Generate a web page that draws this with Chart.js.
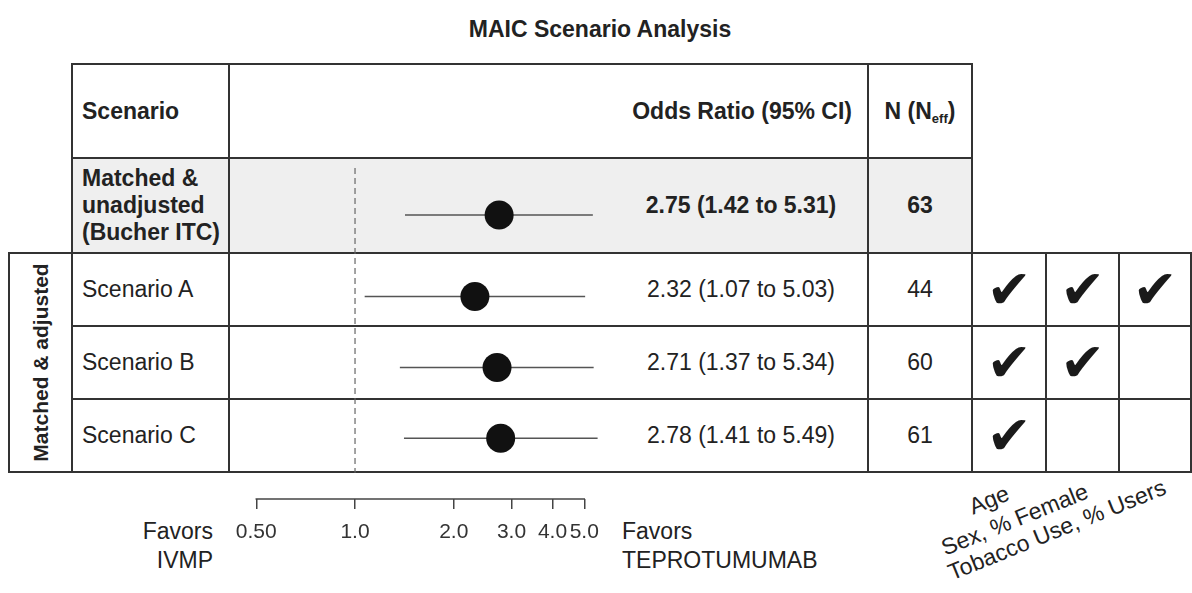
<!DOCTYPE html>
<html>
<head>
<meta charset="utf-8">
<title>MAIC Scenario Analysis</title>
<script src="https://cdn.jsdelivr.net/npm/chart.js@4.4.1/dist/chart.umd.min.js"></script>
<style>
  html, body { margin: 0; padding: 0; background: #fff; }
  #page {
    position: relative; width: 1192px; height: 593px; overflow: hidden;
    font-family: "Liberation Sans", Arial, sans-serif; color: #222;
  }
  .cell { position: absolute; box-sizing: border-box; border: 2px solid #333; }
  .box {
    position: absolute; box-sizing: border-box; display: flex; align-items: center;
    font-size: 23px; line-height: 27px; white-space: nowrap;
  }
  .bold { font-weight: bold; }
  .check { font-family: "DejaVu Sans", sans-serif; font-size: 54px; line-height: 1; justify-content: center; color: #1a1a1a; }
  .rot {
    position: absolute; white-space: nowrap; font-size: 23px; line-height: 26px;
    transform-origin: 100% 50%; transform: rotate(-22deg);
  }
  .sub { font-size: 13px; position: relative; top: 7px; }
  #forest { position: absolute; left: 0; top: 0; }
</style>
</head>
<body>
<div id="page">
  <div id="table"></div>
  <canvas id="forest" width="1192" height="593"></canvas>
</div>
<script>
// data
const scenarios = ["Matched &<br>unadjusted<br>(Bucher ITC)", "Scenario A", "Scenario B", "Scenario C"];
const oddsRatios = [2.75, 2.32, 2.71, 2.78];
const ciLower = [1.42, 1.07, 1.37, 1.41];
const ciUpper = [5.31, 5.03, 5.34, 5.49];
const sampleN = [63, 44, 60, 61];
const covariates = ["Age", "Sex, % Female", "Tobacco Use, % Users"];
const adjustedFor = [null, [true, true, true], [true, true, false], [true, false, false]];
const tickValues = [0.5, 1, 2, 3, 4, 5];
const tickLabels = ["0.50", "1.0", "2.0", "3.0", "4.0", "5.0"];

// layout (pixels)
const colX = [9, 72, 229, 868, 972];
const checkX = [972, 1046, 1119, 1191];
const rowY = [64, 158, 253, 326, 399, 472];
const AXIS_Y = 499;
const CI_TEXT_X = 741;

const table = document.getElementById("table");

function addCell(x0, y0, x1, y1, bg) {
  const d = document.createElement("div");
  d.className = "cell";
  d.style.left = (x0 - 1) + "px";
  d.style.top = (y0 - 1) + "px";
  d.style.width = (x1 - x0 + 2) + "px";
  d.style.height = (y1 - y0 + 2) + "px";
  if (bg) d.style.background = bg;
  table.appendChild(d);
}

function addText(html, x0, y0, x1, y1, cls, justify, pad) {
  const d = document.createElement("div");
  d.className = "box " + (cls || "");
  d.style.left = x0 + "px";
  d.style.top = y0 + "px";
  d.style.width = (x1 - x0) + "px";
  d.style.height = (y1 - y0) + "px";
  d.style.justifyContent = justify || "flex-start";
  if (pad) d.style.padding = pad;
  d.innerHTML = html;
  table.appendChild(d);
}

// title
addText("MAIC Scenario Analysis", 300, 14, 900, 44, "bold", "center");

// header row
addCell(colX[1], rowY[0], colX[2], rowY[1]);
addCell(colX[2], rowY[0], colX[3], rowY[1]);
addCell(colX[3], rowY[0], colX[4], rowY[1]);
addText("Scenario", colX[1], rowY[0], colX[2], rowY[1], "bold", "flex-start", "0 0 0 10px");
addText("Odds Ratio (95% CI)", colX[2], rowY[0], colX[3], rowY[1], "bold", "flex-end", "0 16px 0 0");
addText("N (N<span class=\"sub\">eff</span>)", colX[3], rowY[0], colX[4], rowY[1], "bold", "center");

// data rows
scenarios.forEach((name, i) => {
  const y0 = rowY[i + 1];
  const y1 = rowY[i + 2];
  const bg = i === 0 ? "#efefef" : null;
  const cls = i === 0 ? "bold" : "";
  addCell(colX[1], y0, colX[2], y1, bg);
  addCell(colX[2], y0, colX[3], y1, bg);
  addCell(colX[3], y0, colX[4], y1, bg);
  addText(name, colX[1], y0, colX[2], y1, cls, "flex-start", "0 0 0 10px");
  const ci = oddsRatios[i].toFixed(2) + " (" + ciLower[i].toFixed(2) + " to " + ciUpper[i].toFixed(2) + ")";
  addText(ci, CI_TEXT_X - 120, y0, CI_TEXT_X + 120, y1, cls, "center");
  addText(String(sampleN[i]), colX[3], y0, colX[4], y1, cls, "center");
  if (adjustedFor[i]) {
    adjustedFor[i].forEach((on, j) => {
      addCell(checkX[j], y0, checkX[j + 1], y1);
      if (on) addText("\u2714", checkX[j], y0, checkX[j + 1], y1, "check", "center");
    });
  }
});

// group label
addCell(colX[0], rowY[2], colX[1], rowY[5]);
const grp = document.createElement("div");
grp.className = "box bold";
grp.style.fontSize = "21px";
grp.style.justifyContent = "center";
grp.style.width = (rowY[5] - rowY[2]) + "px";
grp.style.height = (colX[1] - colX[0]) + "px";
grp.style.left = ((colX[0] + colX[1]) / 2 - (rowY[5] - rowY[2]) / 2) + "px";
grp.style.top = ((rowY[2] + rowY[5]) / 2 - (colX[1] - colX[0]) / 2) + "px";
grp.style.transform = "rotate(-90deg)";
grp.textContent = "Matched & adjusted";
table.appendChild(grp);

// favors labels
const favL = document.createElement("div");
favL.className = "box";
favL.style.cssText = "left:60px;top:516px;width:153px;height:60px;justify-content:flex-end;text-align:right;line-height:29px;";
favL.innerHTML = "Favors<br>IVMP";
table.appendChild(favL);
const favR = document.createElement("div");
favR.className = "box";
favR.style.cssText = "left:622px;top:516px;width:220px;height:60px;line-height:29px;";
favR.innerHTML = "Favors<br>TEPROTUMUMAB";
table.appendChild(favR);

// covariate labels
const covAnchor = [[1008, 492], [1087, 490], [1165, 486]];
covariates.forEach((c, j) => {
  const d = document.createElement("div");
  d.className = "rot";
  d.style.right = (1192 - covAnchor[j][0]) + "px";
  d.style.top = (covAnchor[j][1] - 13) + "px";
  d.textContent = c;
  table.appendChild(d);
});

// forest plot
const rowCenters = scenarios.map((_, i) => (rowY[i + 1] + rowY[i + 2]) / 2 + 1);

const ciLinesPlugin = {
  id: "ciLines",
  beforeDatasetsDraw(chart) {
    const { ctx, scales } = chart;
    ctx.save();
    ctx.strokeStyle = "#555";
    ctx.lineWidth = 1.5;
    oddsRatios.forEach((_, i) => {
      const y = scales.y.getPixelForValue(rowCenters[i]);
      ctx.beginPath();
      ctx.moveTo(scales.x.getPixelForValue(ciLower[i]), y);
      ctx.lineTo(scales.x.getPixelForValue(ciUpper[i]), y);
      ctx.stroke();
    });
    ctx.restore();
  }
};

const axisLinePlugin = {
  id: "axisLine",
  afterDraw(chart) {
    const { ctx, scales, chartArea } = chart;
    ctx.save();
    ctx.strokeStyle = "#444";
    ctx.lineWidth = 1.5;
    ctx.beginPath();
    ctx.moveTo(scales.x.getPixelForValue(tickValues[0]) - 0.75, chartArea.bottom);
    ctx.lineTo(scales.x.getPixelForValue(tickValues[tickValues.length - 1]) + 0.75, chartArea.bottom);
    ctx.stroke();
    ctx.restore();
  }
};

const ctx = document.getElementById("forest").getContext("2d");

new Chart(ctx, {
  type: "scatter",
  data: {
    datasets: [
      {
        label: "Odds ratio",
        data: oddsRatios.map((v, i) => ({ x: v, y: rowCenters[i] })),
        pointRadius: 14.5,
        backgroundColor: "#111",
        borderColor: "#111",
        borderWidth: 0
      },
      {
        label: "No effect",
        type: "line",
        data: [{ x: 1, y: rowY[1] }, { x: 1, y: rowY[5] }],
        borderColor: "#666",
        borderWidth: 1.2,
        borderDash: [6, 4],
        pointRadius: 0
      }
    ]
  },
  options: {
    responsive: false,
    animation: false,
    layout: { padding: { left: 224.5, right: 311.5, top: 0, bottom: 0 } },
    plugins: {
      legend: { display: false },
      tooltip: { enabled: false }
    },
    scales: {
      x: {
        type: "logarithmic",
        min: 0.4,
        max: 40,
        afterBuildTicks: axis => {
          axis.ticks = tickValues.map(v => ({ value: v }));
        },
        afterFit: axis => {
          axis.height = 593 - AXIS_Y;
        },
        border: { display: false },
        grid: {
          drawOnChartArea: false,
          drawTicks: true,
          tickLength: 10,
          color: "#444",
          lineWidth: 1.5
        },
        ticks: {
          autoSkip: false,
          maxRotation: 0,
          padding: 11,
          color: "#333",
          font: { family: "Liberation Sans", size: 21 },
          callback: (value, index) => tickLabels[index]
        }
      },
      y: {
        type: "linear",
        display: false,
        min: 0,
        max: AXIS_Y,
        reverse: true
      }
    }
  },
  plugins: [ciLinesPlugin, axisLinePlugin]
});
</script>
</body>
</html>
